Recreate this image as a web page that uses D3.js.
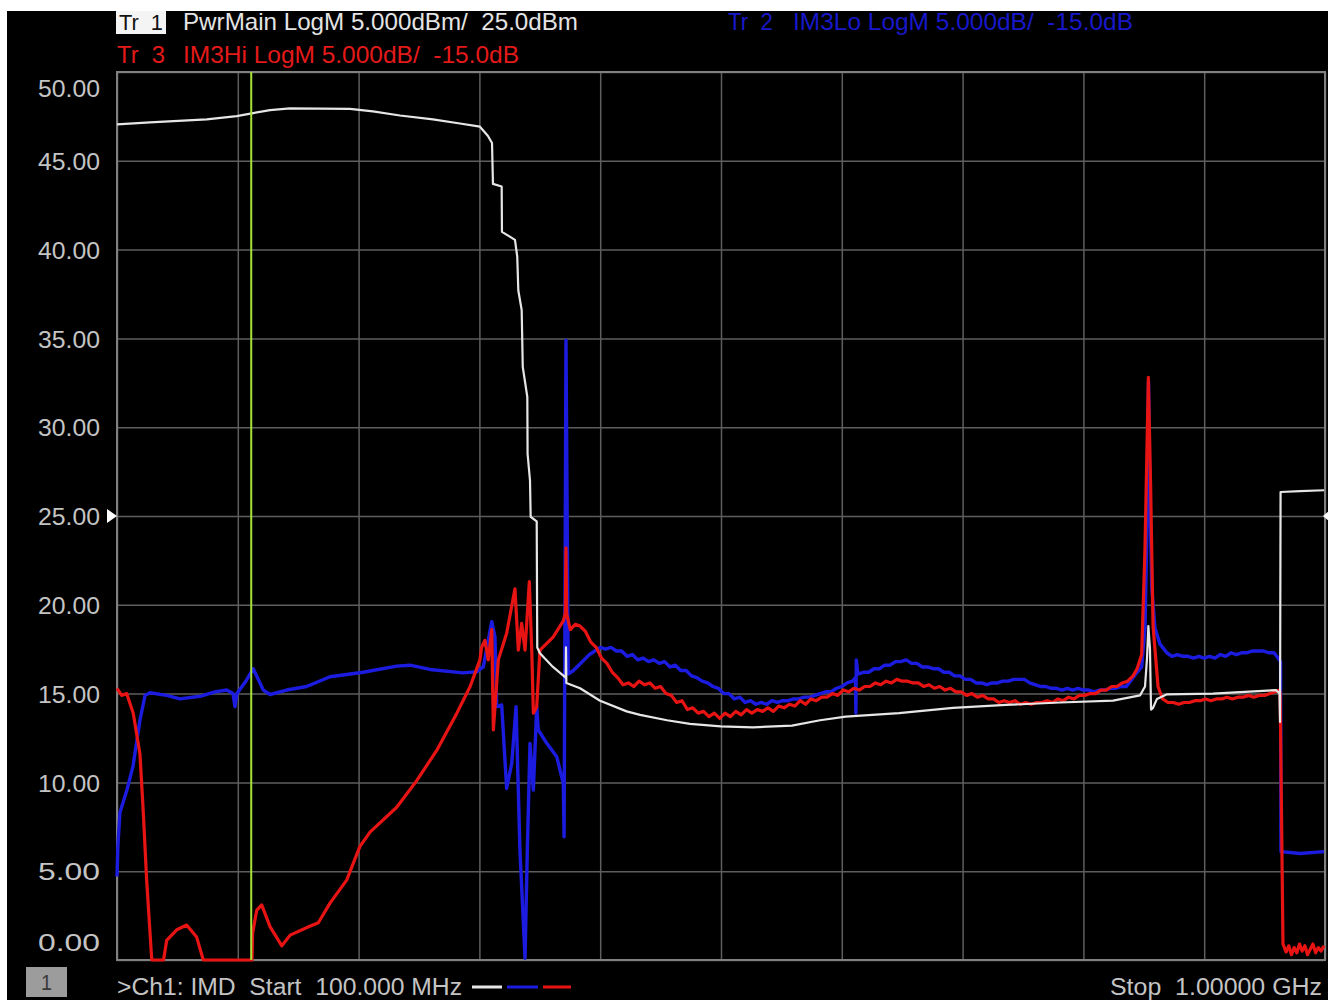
<!DOCTYPE html>
<html><head><meta charset="utf-8">
<script src="https://cdn.jsdelivr.net/npm/d3@7/dist/d3.min.js"></script>
<style>
html,body{margin:0;padding:0;background:#000;overflow:hidden}
text{font-family:"Liberation Sans Narrow","Liberation Sans",Arial,sans-serif;white-space:pre}
</style>
</head><body>
<svg id="c" width="1328" height="1000"></svg>
<script>
// ---------- data (frequency in MHz, level in dB / dBm) ----------
const yTicks = [0,5,10,15,20,25,30,35,40,45,50];
const xGrid = [100,190,280,370,460,550,640,730,820,910,1000];
const markerFreq = 200;
const refLevel = 25;

const whiteFreq = [100.0,124.6,166.8,189.2,200.4,214.0,228.9,273.6,290.7,310.8,335.4,355.5,370.4,376.4,379.4,380.1,386.6,386.8,396.5,398.2,399.0,401.5,402.3,405.7,405.9,407.7,408.2,412.7,413.1,415.1,424.8,434.3,434.5,434.8,445.0,459.9,479.7,489.7,509.8,526.9,549.8,573.8,602.9,623.8,642.9,682.6,722.8,762.3,802.6,842.1,862.2,865.9,867.4,868.4,869.6,870.4,871.9,874.8,882.3,916.6,963.5,966.1,966.5,966.9,981.4,999.3];
const whiteVal  = [47.05,47.16,47.33,47.52,47.67,47.85,47.95,47.92,47.78,47.55,47.33,47.1,46.92,46.4,46.0,43.7,43.55,41.0,40.55,39.6,37.7,36.6,33.4,31.7,28.5,27.0,24.95,24.7,17.6,17.27,16.5,15.9,17.6,15.6,15.3,14.6,14.0,13.8,13.5,13.3,13.15,13.1,13.2,13.5,13.7,13.9,14.2,14.36,14.5,14.6,14.9,15.4,17.0,18.8,17.5,14.1,14.2,14.7,14.96,15.0,15.2,15.0,13.4,26.35,26.4,26.45];

const blueFreq = [100.0,100.7,102.2,107.5,111.9,117.1,120.9,124.6,137.0,146.9,161.8,173.0,181.7,186.4,187.9,189.4,196.6,201.5,209.0,214.0,226.4,241.3,258.7,283.3,308.4,318.3,333.2,357.8,368.0,372.9,379.2,381.6,382.9,386.6,390.3,394.1,397.3,400.2,404.0,405.7,407.7,410.2,412.7,413.9,420.2,427.6,432.5,433.1,434.5,436.2,440,444,448,452,456,460,464,468,472,476,480,484,488,492,496,500,504,508,512,516,520,524,528,532,536,540,544,548,552,556,560,564,568,572,576,580,584,588,592,596,600,604,608,612,616,620,624,628,632,636,640,644,648,650.2,650.5,650.8,652,656,660,664,668,672,676,680,684,688,692,696,700,704,708,712,716,720,724,728,732,736,740,744,748,752,756,760,764,768,772,776,780,784,788,792,796,800,804,808,812,816,820,824,828,832,836,840,844,848,852,856,860,863.4,865.9,867.8,868.5,869.6,870.9,873.3,877,882.1,886,890,894,898,902,906,910,914,918,922,926,930,934,938,942,946,950,954,958,962,965,966.9,967.2,981.4,999.3];
const blueVal  = [4.7,6.5,8.3,9.6,10.9,13.5,14.9,15.05,14.9,14.7,14.85,15.1,15.2,15.0,14.26,15.0,15.77,16.4,15.2,14.95,15.2,15.4,15.95,16.2,16.55,16.6,16.36,16.17,16.23,16.5,19.05,18.2,14.26,14.36,9.66,11.07,14.26,6.19,0.1,6.2,12.2,9.57,14.26,12.95,12.2,11.45,9.95,6.94,34.9,16.1,16.3,16.6,16.9,17.2,17.4,17.6,17.5,17.6,17.4,17.4,17.1,17.2,16.9,17.0,16.8,16.9,16.7,16.8,16.5,16.6,16.3,16.3,16.0,15.9,15.7,15.6,15.4,15.3,15.0,15.0,14.7,14.8,14.5,14.6,14.4,14.5,14.4,14.6,14.5,14.6,14.6,14.7,14.7,14.8,14.8,14.9,15.0,15.1,15.1,15.3,15.4,15.6,15.7,15.9,13.9,16.9,16.1,16.2,16.2,16.4,16.4,16.6,16.6,16.8,16.8,16.9,16.7,16.7,16.5,16.5,16.4,16.4,16.2,16.2,16.0,16.0,15.8,15.8,15.6,15.6,15.5,15.6,15.6,15.7,15.7,15.8,15.8,15.8,15.6,15.5,15.4,15.4,15.3,15.3,15.2,15.3,15.2,15.3,15.2,15.2,15.1,15.2,15.2,15.3,15.3,15.4,15.4,15.8,16.2,16.5,18.7,26.0,32.6,26.0,21.0,18.7,17.8,17.3,17.1,17.2,17.1,17.1,17.0,17.1,17.0,17.1,17.0,17.2,17.1,17.3,17.2,17.3,17.3,17.4,17.4,17.4,17.3,17.3,17.0,16.8,6.1,6.0,6.1];

const redFreq = [100.0,103.5,107.2,112.1,117.1,119.6,122.1,125.9,132.0,134.7,137.0,144.5,151.9,159.3,164.3,170.0,200.4,200.6,201.0,204.1,207.8,214.0,222.8,229.0,243.6,250.0,258.7,271.1,281.0,288.5,308.4,323.3,338.2,353.2,363.1,370.4,371.6,374.1,376.6,379.2,380.4,384.1,390.3,396.5,399.0,401.5,404.0,407.2,409.0,410.2,412.7,415.1,425.1,432.5,434.0,434.5,435.0,437.7,441.4,445,449,453,457,461,465,469,473,477,481,485,489,493,497,501,505,509,513,517,521,525,529,533,537,541,545,549,553,557,561,565,569,573,577,581,585,589,593,597,601,605,609,613,617,621,625,629,633,637,641,645,649,653,657,661,665,669,673,677,681,685,689,693,697,701,705,709,713,717,721,725,729,733,737,741,745,749,753,757,761,765,769,773,777,781,785,789,793,797,801,805,809,813,817,821,825,829,833,837,841,845,849,853,857,860,863.4,865.9,868.4,870.1,871.9,875.6,879,883,887,891,895,899,903,907,911,915,919,923,927,931,935,939,943,947,951,955,959,963,966.3,966.6,968.7,971,973,975,977,979,981,983,985,987,989,991,993,995,997,999.3];
const redVal  = [15.3,14.9,15.0,13.9,11.6,8.3,4.5,-1,-3,-0.5,1.1,1.7,1.97,1.3,-0.5,-3,-3,-1,1.5,2.8,3.1,1.88,0.8,1.4,1.9,2.1,3.2,4.5,6.4,7.2,8.6,10.1,11.8,13.9,15.4,16.9,17.6,18.0,16.9,18.6,12.95,16.9,18.4,20.9,17.45,18.95,17.45,21.3,17.45,13.9,14.26,17.45,18.2,19.1,19.5,23.2,19.5,18.6,18.9,18.8,18.5,17.9,17.6,17.0,16.7,16.2,15.9,15.5,15.6,15.4,15.7,15.5,15.6,15.3,15.4,15.0,14.9,14.5,14.6,14.1,14.2,13.9,14.0,13.7,13.9,13.6,13.9,13.7,14.0,13.8,14.1,13.9,14.1,14.0,14.2,14.0,14.3,14.2,14.4,14.3,14.6,14.4,14.7,14.6,14.8,14.8,15.0,14.9,15.2,15.1,15.3,15.2,15.4,15.4,15.6,15.5,15.7,15.6,15.8,15.7,15.7,15.6,15.6,15.4,15.5,15.3,15.4,15.2,15.3,15.1,15.1,14.9,15.0,14.8,14.9,14.7,14.7,14.5,14.6,14.5,14.6,14.4,14.5,14.4,14.5,14.5,14.6,14.5,14.7,14.6,14.8,14.7,14.9,14.9,15.0,15.0,15.2,15.2,15.4,15.4,15.6,15.7,16.0,16.4,17.2,23.2,32.8,26.6,18.8,15.4,14.7,14.5,14.5,14.4,14.5,14.5,14.6,14.6,14.7,14.6,14.7,14.7,14.8,14.7,14.8,14.8,14.9,14.8,14.9,14.9,15.0,15.1,15.2,14.95,0.9,0.45,0.8,0.3,0.7,0.4,0.9,0.5,0.8,0.3,0.6,0.9,0.4,0.7,0.5,0.8,0.6];

// ---------- layout ----------
const W = 1328, H = 1000;
const L = 117, R = 1325, T = 72, B = 960;
const svg = d3.select('#c');
svg.append('rect').attr('width',W).attr('height',H).attr('fill','#000');
svg.append('rect').attr('width',W).attr('height',11).attr('fill','#fff');
svg.append('rect').attr('x',0).attr('y',0).attr('width',7).attr('height',H).attr('fill','#fff');

const x = d3.scaleLinear().domain([100,1000]).range([L,R]);
const y = d3.scaleLinear().domain([0,50]).range([B,T]).clamp(true);

// grid
const gx = svg.append('g').attr('transform',`translate(0,${B})`)
  .call(d3.axisBottom(x).tickValues(xGrid).tickSize(-(B-T)).tickFormat(''));
gx.select('.domain').remove();
gx.selectAll('line').attr('stroke','#5e5e5e').attr('stroke-width',1.5);

const gy = svg.append('g').attr('transform',`translate(${L},0)`)
  .call(d3.axisLeft(y).tickValues(yTicks).tickSize(-(R-L)).tickPadding(17).tickFormat(d3.format('.2f')));
gy.select('.domain').remove();
gy.selectAll('line').attr('stroke','#5e5e5e').attr('stroke-width',1.5);
gy.selectAll('text').attr('fill','#c4c4c4').style('font-size','24px')
  .attr('textLength',62).attr('lengthAdjust','spacingAndGlyphs')
  .attr('dy',d => d===50 ? '1.0em' : d===0 ? '-0.4em' : '0.36em');

svg.append('rect').attr('x',L).attr('y',T).attr('width',R-L).attr('height',B-T)
  .attr('fill','none').attr('stroke','#808080').attr('stroke-width',2);

// traces
const line = d3.line().x(d=>x(d[0])).y(d=>y(d[1]));
function trace(f,v,color,w){
  svg.append('path').datum(d3.zip(f,v)).attr('d',line)
    .attr('fill','none').attr('stroke',color).attr('stroke-width',w)
    .attr('stroke-linejoin','round');
}
trace(blueFreq,blueVal,'#1c1ce0',3.4);
trace(redFreq,redVal,'#e81414',3.2);
trace(whiteFreq,whiteVal,'#e6e6e6',2.2);

// marker
svg.append('line').attr('x1',x(markerFreq)).attr('x2',x(markerFreq)).attr('y1',T).attr('y2',B)
  .attr('stroke','#a6e23c').attr('stroke-width',2);

// reference level arrows
svg.append('path').attr('d',`M${L-10},${y(refLevel)-7}L${L},${y(refLevel)}L${L-10},${y(refLevel)+7}Z`).attr('fill','#fff');
svg.append('path').attr('d',`M${R+4},${y(refLevel)-5}L${R-2},${y(refLevel)}L${R+4},${y(refLevel)+5}Z`).attr('fill','#fff');

// header
svg.append('rect').attr('x',116).attr('y',11).attr('width',50).attr('height',23).attr('fill','#f4f4f4');
function txt(s,xx,yy,len,col,size,anchor){
  return svg.append('text').attr('x',xx).attr('y',yy).text(s).attr('fill',col)
    .style('font-size',size+'px').attr('text-anchor',anchor||'start')
    .attr('textLength',len).attr('lengthAdjust','spacingAndGlyphs');
}
txt('Tr  1',119,30,44,'#111',22);
txt('PwrMain LogM 5.000dBm/  25.0dBm',183,30,395,'#e4e4e4',24);
txt('Tr  2',728,30,45,'#1818c8',24);
txt('IM3Lo LogM 5.000dB/  -15.0dB',793,30,340,'#1818c8',24);
txt('Tr  3',117,63,48,'#e41a1a',24);
txt('IM3Hi LogM 5.000dB/  -15.0dB',183,63,336,'#e41a1a',24);

// footer
svg.append('rect').attr('x',26).attr('y',967).attr('width',41).attr('height',30).attr('fill','#9c9c9c');
txt('1',41,990,11,'#3a3a3a',22);
txt('>Ch1: IMD  Start  100.000 MHz',117,995,345,'#c4c4c4',23);
txt('Stop  1.00000 GHz',1110,995,212,'#c4c4c4',23);
[['#e6e6e6',472,502],['#1c1ce0',507,538],['#e81414',543,571]].forEach(([c,a,b])=>{
  svg.append('line').attr('x1',a).attr('x2',b).attr('y1',987).attr('y2',987).attr('stroke',c).attr('stroke-width',3);
});
</script>
</body></html>
